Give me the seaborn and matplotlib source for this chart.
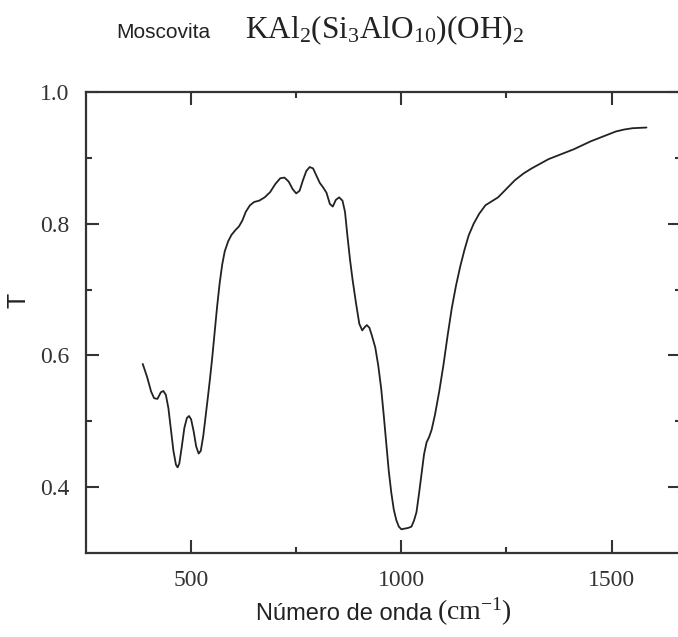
import numpy as np
import pandas as pd
import seaborn as sns
import matplotlib.pyplot as plt
from matplotlib.ticker import FixedLocator

# spectrum (wavenumber in cm-1, transmittance)
wavenumber = [385, 395, 405, 412, 420, 428, 434, 440, 446, 452, 458, 464, 468, 472,
              478, 484, 490, 495, 500, 506, 512, 518, 523, 529, 535, 540, 545, 550,
              556, 562, 568, 574, 580, 588, 596, 605, 614, 622, 630, 640, 650, 662,
              675, 688, 700, 712, 722, 732, 742, 750, 758, 766, 774, 782, 790, 798,
              806, 814, 822, 830, 837, 844, 852, 860, 866, 872, 878, 884, 892, 900,
              907, 913, 918, 924, 930, 938, 945, 952, 958, 964, 970, 976, 982, 988,
              994, 1000, 1008, 1016, 1024, 1030, 1036, 1042, 1048, 1054, 1060, 1066,
              1072, 1080, 1090, 1100, 1110, 1120, 1130, 1140, 1150, 1160, 1172, 1185,
              1200, 1215, 1230, 1250, 1270, 1290, 1310, 1330, 1350, 1370, 1390, 1410,
              1430, 1450, 1470, 1490, 1510, 1530, 1550, 1583]
transmittance = [0.587, 0.568, 0.545, 0.535, 0.534, 0.544, 0.546, 0.540, 0.520, 0.488,
                 0.455, 0.434, 0.430, 0.436, 0.462, 0.490, 0.505, 0.508, 0.503, 0.485,
                 0.462, 0.451, 0.455, 0.478, 0.510, 0.537, 0.565, 0.595, 0.635, 0.675,
                 0.710, 0.738, 0.758, 0.773, 0.783, 0.790, 0.796, 0.805, 0.818, 0.828,
                 0.833, 0.835, 0.840, 0.848, 0.860, 0.869, 0.870, 0.864, 0.852, 0.846,
                 0.850, 0.866, 0.880, 0.886, 0.884, 0.873, 0.862, 0.855, 0.847, 0.830,
                 0.826, 0.836, 0.840, 0.835, 0.818, 0.780, 0.745, 0.715, 0.680, 0.648,
                 0.638, 0.643, 0.646, 0.642, 0.630, 0.612, 0.585, 0.550, 0.510, 0.468,
                 0.425, 0.392, 0.366, 0.350, 0.340, 0.336, 0.337, 0.338, 0.340, 0.349,
                 0.362, 0.390, 0.420, 0.450, 0.468, 0.476, 0.487, 0.510, 0.545, 0.585,
                 0.630, 0.672, 0.706, 0.735, 0.760, 0.782, 0.800, 0.815, 0.828, 0.834,
                 0.840, 0.853, 0.866, 0.876, 0.884, 0.891, 0.898, 0.903, 0.908, 0.913,
                 0.919, 0.925, 0.930, 0.935, 0.940, 0.943, 0.945, 0.946]

x_ticks = [500, 1000, 1500]
x_minor = [750, 1250]
y_ticks = [0.4, 0.6, 0.8, 1.0]
y_minor = [0.5, 0.7, 0.9]

sns.set_theme(style="ticks")
plt.rcParams['font.family'] = ['Liberation Sans', 'DejaVu Sans']
plt.rcParams['mathtext.fontset'] = 'custom'
plt.rcParams['mathtext.rm'] = 'Liberation Serif'
plt.rcParams['mathtext.it'] = 'Liberation Serif:italic'

df = pd.DataFrame({"wn": wavenumber, "T": transmittance})

fig = plt.figure(figsize=(6.78, 6.37), dpi=100)
# right spine sits just past the picture edge, as in the scanned original
ax = fig.add_axes([0.1268, 0.1319, 0.8776, 0.7237])
sns.lineplot(data=df, x="wn", y="T", ax=ax, color="#222222", lw=1.3,
             estimator=None, sort=False)

ax.set_xlim(250, 1665)
ax.set_ylim(0.3, 1.0)
ax.set_xticks(x_ticks)
ax.set_yticks(y_ticks)
ax.xaxis.set_minor_locator(FixedLocator(x_minor))
ax.yaxis.set_minor_locator(FixedLocator(y_minor))
ax.set_yticklabels([f"{v:.1f}" for v in y_ticks])
for lab in ax.get_xticklabels() + ax.get_yticklabels():
    lab.set_fontfamily('Liberation Serif')
    lab.set_fontsize(17)
ax.tick_params(which='both', direction='in', top=True, right=True,
               color='#333333', width=1.5, labelcolor='#333333')
ax.tick_params(which='major', length=9.5, pad=12)
ax.tick_params(which='minor', length=4.5)
for s in ax.spines.values():
    s.set_linewidth(1.6)
    s.set_color('#333333')
ax.set_xlabel("")
ax.set_ylabel("")

# axis labels: sans words, serif units like the original
fig.text(432 / 678, 1 - 620 / 637, "Número de onda", fontsize=17,
         ha='right', va='baseline', color='#222222')
fig.text(437 / 678, 1 - 620 / 637, "$\\mathrm{(cm^{-1})}$", fontsize=20,
         ha='left', va='baseline', color='#222222')
fig.text(18 / 678, 1 - 300 / 637, "T", fontsize=18, rotation=90,
         ha='center', va='center', color='#222222')

fig.text(116 / 678, 1 - 38 / 637, "Moscovita", fontsize=15,
         ha='left', va='baseline', color='#222222')
fig.text(245 / 678, 1 - 38 / 637, "$\\mathrm{KAl_2(Si_3AlO_{10})(OH)_2}$",
         fontsize=22.5, ha='left', va='baseline', color='#222222')

plt.savefig("out.png", dpi=100)
